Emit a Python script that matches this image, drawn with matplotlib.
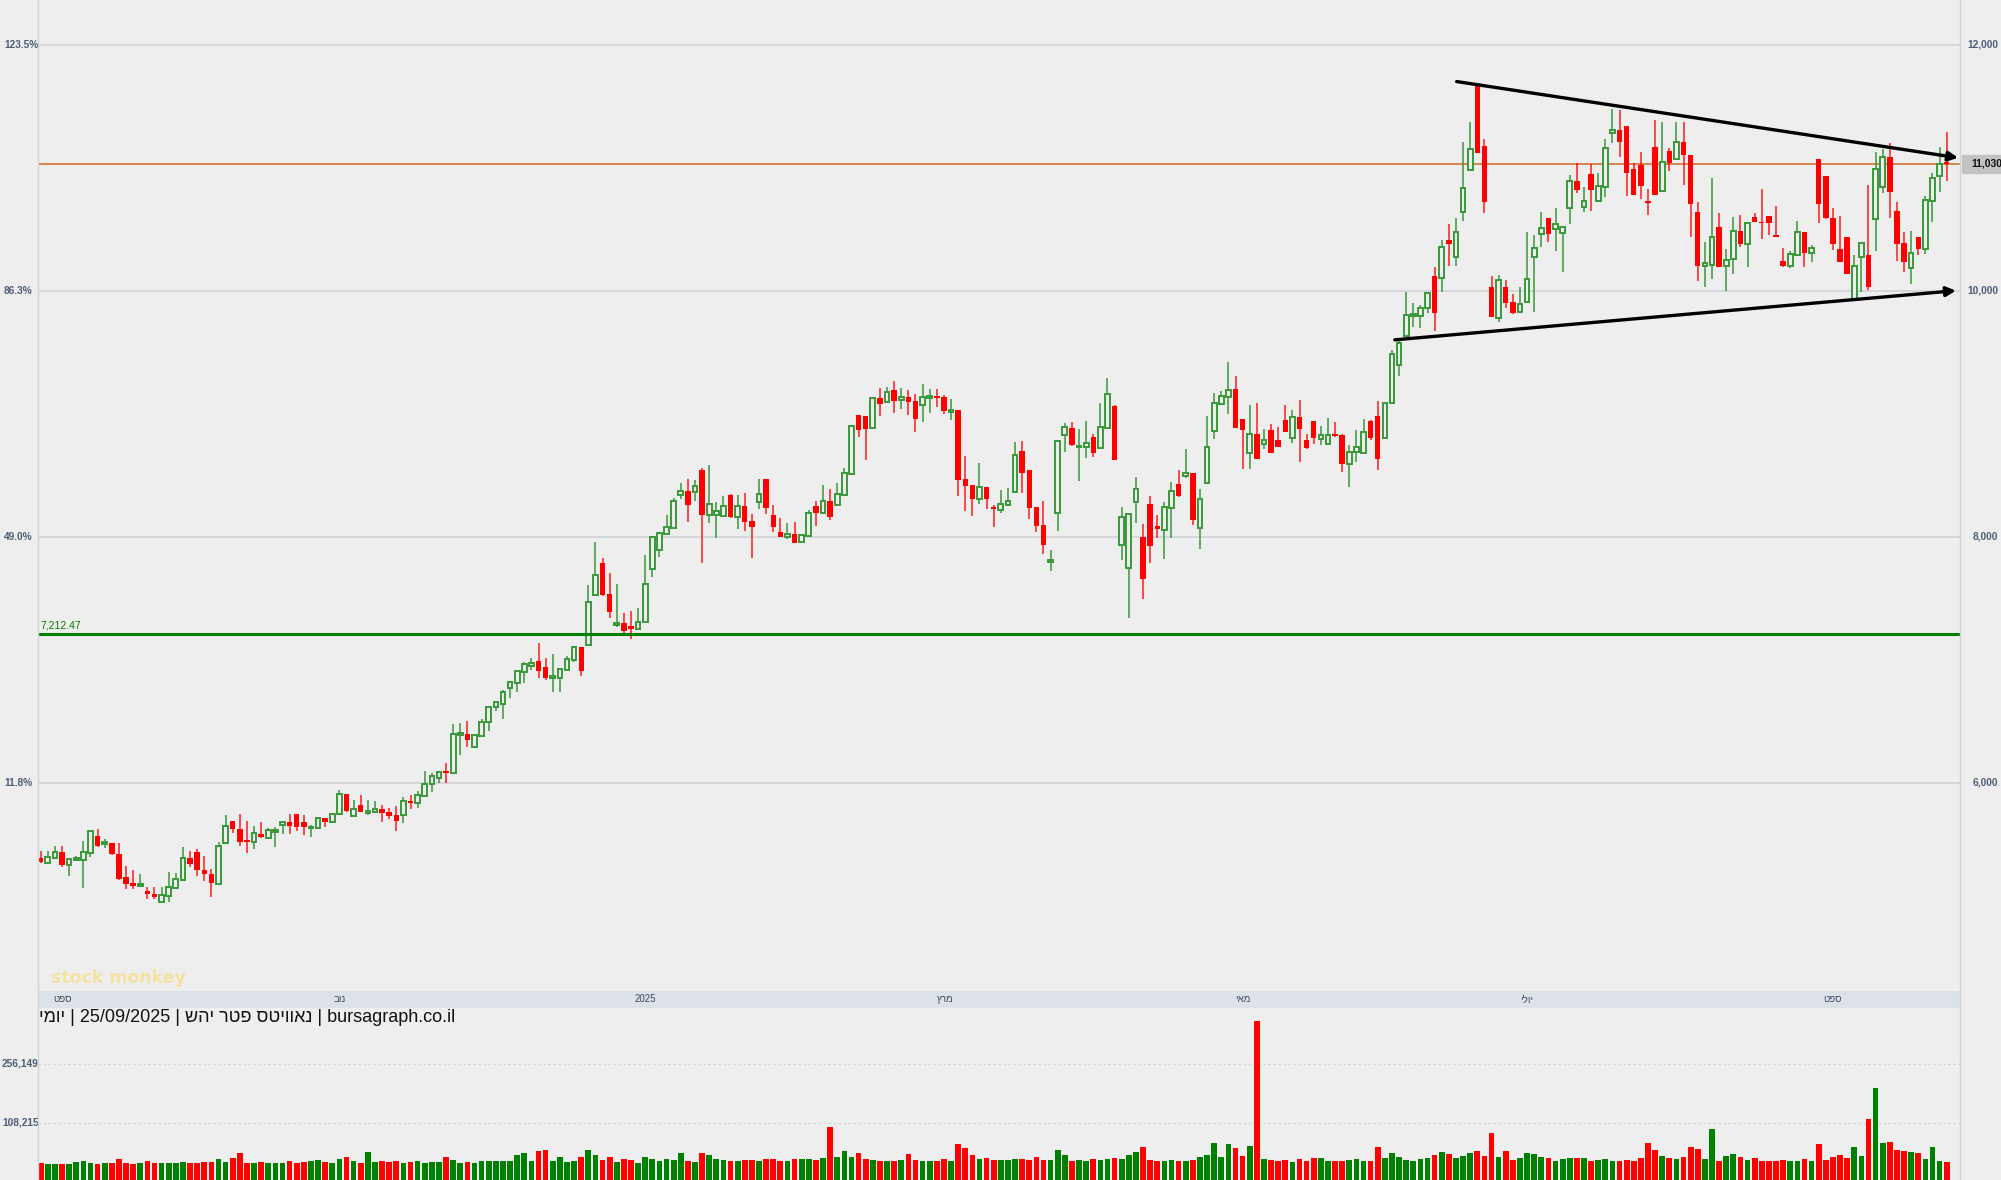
import numpy as np
import matplotlib.pyplot as plt
import matplotlib.transforms as mtransforms
from matplotlib.lines import Line2D
from matplotlib.patches import Rectangle

plt.rcParams['font.family'] = ['Liberation Sans', 'DejaVu Sans']

# daily candles, Sep 2024 - 25/09/2025
opens = [5385, 5350, 5391, 5437, 5331, 5372, 5372, 5431, 5567, 5499,
         5510, 5418, 5233, 5185, 5160, 5120, 5095, 5030, 5082, 5147,
         5209, 5385, 5437, 5290, 5258, 5174, 5513, 5686, 5624, 5526,
         5521, 5583, 5548, 5599, 5653, 5681, 5743, 5683, 5629, 5629,
         5716, 5683, 5748, 5908, 5729, 5819, 5756, 5762, 5786, 5764,
         5737, 5737, 5848, 5838, 5894, 5989, 6041, 6084, 6079, 6388,
         6393, 6293, 6380, 6491, 6613, 6640, 6772, 6810, 6903, 6951,
         6989, 6938, 6854, 6854, 6916, 6997, 7106, 7119, 7526, 7786,
         7534, 7282, 7301, 7274, 7250, 7309, 7737, 7892, 8019, 8071,
         8336, 8374, 8366, 8542, 8179, 8179, 8165, 8339, 8160, 8249,
         8127, 8282, 8469, 8176, 8038, 8000, 8022, 7959, 8006, 8247,
         8193, 8290, 8257, 8338, 8509, 8989, 8981, 8886, 9124, 9095,
         9192, 9108, 9135, 9103, 9070, 9127, 9135, 9135, 9013, 9030,
         8469, 8417, 8309, 8403, 8235, 8217, 8257, 8363, 8696, 8542,
         8241, 8095, 7796, 8195, 8829, 8880, 8726, 8731, 8807, 8721,
         8883, 9063, 7933, 7748, 8285, 7995, 8266, 8087, 8055, 8236,
         8429, 8494, 8518, 8074, 8439, 8862, 9079, 9139, 9201, 8957,
         8683, 8832, 8756, 8868, 8786, 8949, 8805, 8973, 8786, 8941,
         8792, 8754, 8827, 8827, 8591, 8686, 8683, 8941, 8981, 8800,
         9084, 9396, 9631, 9794, 9796, 9856, 10119, 10105, 10412, 10276,
         10642, 10981, 11664, 11176, 10027, 9780, 10027, 9905, 9826, 9910,
         10276, 10463, 10588, 10501, 10471, 10674, 10891, 10683, 10945, 10729,
         10842, 11279, 11306, 11336, 10986, 11021, 10726, 11165, 10810, 11135,
         11070, 11208, 11103, 10639, 10203, 10208, 10517, 10203, 10257, 10488,
         10382, 10596, 10555, 10607, 10452, 10241, 10203, 10290, 10474, 10303,
         11070, 10932, 10588, 10338, 10436, 9924, 10276, 10287, 10585, 10845,
         11086, 10647, 10387, 10187, 10436, 10336, 10729, 10935, 11043]
highs = [5445, 5445, 5485, 5485, 5380, 5404, 5526, 5610, 5624, 5540,
         5510, 5507, 5323, 5290, 5258, 5155, 5149, 5149, 5274, 5263,
         5475, 5447, 5461, 5404, 5296, 5521, 5737, 5686, 5746, 5689,
         5648, 5678, 5634, 5637, 5691, 5743, 5743, 5737, 5653, 5716,
         5716, 5754, 5941, 5908, 5859, 5900, 5859, 5851, 5819, 5791,
         5810, 5886, 5900, 5935, 6095, 6079, 6090, 6160, 6477, 6483,
         6501, 6385, 6515, 6623, 6653, 6754, 6821, 6911, 6984, 7011,
         7138, 7011, 7046, 6922, 7030, 7111, 7106, 7607, 7959, 7827,
         7705, 7615, 7377, 7396, 7423, 7851, 7995, 8033, 8176, 8312,
         8439, 8466, 8461, 8556, 8583, 8285, 8331, 8347, 8339, 8358,
         8184, 8466, 8469, 8258, 8155, 8109, 8119, 8014, 8217, 8290,
         8420, 8387, 8433, 8555, 8902, 8989, 8981, 9130, 9206, 9214,
         9265, 9206, 9192, 9160, 9241, 9198, 9198, 9151, 9116, 9030,
         8656, 8417, 8596, 8403, 8257, 8376, 8395, 8769, 8777, 8542,
         8241, 8290, 7891, 8780, 8921, 8932, 8875, 8940, 8834, 9089,
         9287, 9071, 8244, 8187, 8488, 8103, 8334, 8177, 8285, 8448,
         8542, 8713, 8518, 8388, 8981, 9166, 9185, 9418, 9307, 8957,
         9071, 9090, 8876, 8916, 8889, 9071, 9030, 9112, 8835, 8941,
         8900, 8965, 8933, 8835, 8746, 8868, 8954, 8949, 9103, 9090,
         9518, 9590, 9991, 9897, 9883, 9983, 10189, 10412, 10542, 10593,
         11208, 11371, 11672, 11233, 10119, 10127, 10086, 9970, 10027, 10477,
         10452, 10636, 10588, 10672, 10520, 10937, 11035, 10845, 11027, 10954,
         11230, 11474, 11469, 11336, 11035, 11127, 10824, 11387, 11371, 11157,
         11371, 11371, 11103, 10718, 10395, 10916, 10631, 10338, 10601, 10615,
         10553, 10628, 10826, 10607, 10688, 10344, 10322, 10566, 10474, 10368,
         11070, 10932, 10672, 10607, 10436, 10290, 10390, 10859, 11124, 11149,
         11198, 10720, 10477, 10482, 10436, 10769, 10954, 11165, 11290]
lows = [5344, 5344, 5382, 5312, 5244, 5361, 5147, 5393, 5480, 5472,
        5412, 5209, 5139, 5133, 5149, 5052, 5057, 5030, 5033, 5141,
        5209, 5312, 5244, 5201, 5073, 5174, 5513, 5594, 5488, 5426,
        5461, 5550, 5542, 5480, 5580, 5580, 5610, 5575, 5556, 5623,
        5637, 5670, 5745, 5764, 5729, 5759, 5740, 5756, 5683, 5705,
        5610, 5670, 5789, 5791, 5892, 5927, 5995, 6000, 6079, 6228,
        6293, 6287, 6380, 6423, 6580, 6520, 6691, 6740, 6808, 6916,
        6854, 6835, 6735, 6740, 6916, 6984, 6867, 7119, 7526, 7518,
        7342, 7268, 7220, 7171, 7250, 7309, 7675, 7832, 8019, 8071,
        8306, 8119, 8293, 7789, 8111, 7992, 8157, 8155, 8065, 8046,
        7829, 8228, 8184, 8041, 7995, 7981, 7951, 7959, 8006, 8087,
        8193, 8135, 8252, 8338, 8509, 8813, 8623, 8886, 8983, 9089,
        9008, 9040, 8989, 8851, 8935, 9008, 9057, 8997, 8948, 8333,
        8211, 8168, 8265, 8227, 8081, 8195, 8257, 8363, 8357, 8146,
        8040, 7859, 7723, 8049, 8688, 8737, 8455, 8642, 8647, 8721,
        8883, 8626, 7811, 7336, 8114, 7496, 7789, 7992, 7822, 7992,
        8326, 8475, 8098, 7897, 8439, 8792, 9079, 8995, 8887, 8548,
        8548, 8635, 8710, 8683, 8732, 8849, 8765, 8605, 8716, 8756,
        8746, 8754, 8813, 8529, 8401, 8610, 8670, 8786, 8545, 8792,
        9084, 9307, 9620, 9707, 9693, 9815, 9674, 9991, 10203, 10203,
        10569, 10981, 11122, 10634, 9783, 9748, 9856, 9810, 9826, 9910,
        9824, 10357, 10398, 10325, 10154, 10544, 10791, 10642, 10650, 10729,
        10764, 11203, 11089, 10772, 10780, 10742, 10618, 10780, 10810, 10975,
        11070, 10861, 10439, 10081, 10032, 10097, 10189, 9994, 10132, 10357,
        10195, 10561, 10417, 10452, 10433, 10195, 10187, 10290, 10195, 10230,
        10553, 10585, 10330, 10235, 10132, 9924, 9991, 10005, 10325, 10791,
        10588, 10241, 10151, 10051, 10290, 10298, 10561, 10805, 10894]
closes = [5353, 5399, 5439, 5331, 5380, 5385, 5439, 5610, 5488, 5518,
          5418, 5217, 5174, 5163, 5171, 5093, 5074, 5087, 5155, 5220,
          5391, 5336, 5290, 5255, 5187, 5485, 5651, 5626, 5521, 5521,
          5588, 5561, 5618, 5613, 5681, 5651, 5640, 5640, 5642, 5716,
          5683, 5748, 5911, 5773, 5789, 5764, 5773, 5789, 5756, 5729,
          5691, 5854, 5838, 5903, 5989, 6052, 6090, 6079, 6396, 6396,
          6350, 6385, 6496, 6618, 6653, 6740, 6821, 6911, 6962, 6970,
          6911, 6854, 6862, 6922, 7006, 7106, 6911, 7472, 7691, 7526,
          7390, 7301, 7236, 7252, 7309, 7618, 7995, 8033, 8081, 8293,
          8374, 8260, 8415, 8179, 8268, 8206, 8252, 8160, 8252, 8122,
          8081, 8344, 8236, 8081, 8000, 8025, 7951, 8014, 8195, 8193,
          8293, 8162, 8347, 8520, 8902, 8867, 8875, 9130, 9078, 9179,
          9103, 9135, 9095, 8956, 9138, 9138, 9130, 9021, 9032, 8463,
          8414, 8309, 8406, 8306, 8227, 8265, 8290, 8666, 8520, 8235,
          8089, 7935, 7810, 8780, 8891, 8748, 8740, 8764, 8683, 8894,
          9162, 8626, 8163, 8187, 8391, 7659, 7927, 8060, 8244, 8374,
          8334, 8521, 8139, 8309, 8732, 9090, 9144, 9196, 8887, 8865,
          8838, 8635, 8784, 8683, 8732, 8849, 8976, 8878, 8724, 8805,
          8827, 8830, 8819, 8594, 8689, 8732, 8854, 8805, 8635, 9090,
          9485, 9572, 9802, 9805, 9856, 9983, 9815, 10357, 10376, 10479,
          10832, 11154, 11122, 10723, 9783, 10086, 9902, 9821, 9891, 10097,
          10349, 10512, 10458, 10542, 10520, 10891, 10821, 10729, 10815, 10853,
          11162, 11306, 11211, 10954, 10780, 10853, 10715, 10780, 11048, 11035,
          11211, 11105, 10707, 10203, 10227, 10439, 10189, 10249, 10488, 10382,
          10553, 10561, 10547, 10547, 10433, 10203, 10298, 10479, 10303, 10349,
          10707, 10588, 10376, 10235, 10132, 10203, 10390, 10032, 10992, 11089,
          10805, 10382, 10235, 10309, 10336, 10740, 10918, 11032, 11030]
# volume, thousands of units
volumes_k = [9, 5, 5, 5, 5, 10, 13, 9, 5, 9,
             9, 19, 9, 5, 9, 13, 9, 9, 9, 9,
             11, 9, 9, 11, 11, 17, 11, 21, 33, 9,
             9, 11, 9, 9, 8, 12, 9, 11, 13, 16,
             11, 9, 17, 22, 12, 9, 36, 11, 12, 10,
             13, 9, 11, 14, 9, 10, 11, 22, 16, 9,
             11, 9, 12, 13, 12, 14, 12, 28, 32, 14,
             38, 40, 13, 24, 11, 13, 24, 41, 27, 16,
             23, 11, 18, 15, 9, 22, 19, 13, 19, 16,
             32, 13, 11, 32, 27, 18, 15, 13, 12, 15,
             15, 13, 18, 18, 14, 14, 18, 18, 17, 15,
             20, 99, 23, 38, 22, 34, 17, 15, 14, 14,
             13, 16, 30, 16, 13, 12, 14, 18, 12, 56,
             46, 28, 17, 20, 16, 15, 16, 17, 18, 15,
             22, 16, 16, 41, 27, 13, 15, 12, 17, 15,
             17, 20, 18, 28, 36, 49, 16, 13, 14, 15,
             12, 13, 15, 22, 27, 57, 23, 55, 46, 25,
             50, 364, 18, 16, 12, 15, 10, 18, 14, 20,
             20, 13, 13, 14, 16, 17, 12, 14, 48, 20,
             33, 22, 15, 13, 17, 20, 28, 36, 30, 20,
             25, 32, 38, 26, 84, 24, 38, 15, 20, 34,
             30, 24, 20, 12, 18, 21, 20, 21, 14, 16,
             19, 13, 14, 16, 12, 21, 57, 40, 25, 20,
             18, 22, 49, 44, 17, 92, 13, 25, 30, 22,
             15, 20, 12, 14, 14, 15, 14, 13, 17, 13,
             55, 15, 22, 27, 20, 49, 25, 117, 197, 59,
             61, 40, 38, 36, 33, 19, 49, 12, 10]

price_ticks = [6000, 8000, 10000, 12000]
price_labels = ['6,000', '8,000', '10,000', '12,000']
pct_labels = ['11.8%', '49.0%', '86.3%', '123.5%']
vol_ticks = [108215, 256149]
vol_labels = ['108,215', '256,149']
month_pos = [3, 42, 85, 127, 169, 209, 252]
month_labels = ['ספט', 'נוב', '2025', 'מרץ', 'מאי', 'יולי', 'ספט']
support = 7212.47
last_close = 11030
trend_upper = [(199.1, 11700), (269.6, 11080)]
trend_lower = [(190.4, 9600), (269.3, 10000)]


def rtl(s):
    # matplotlib has no bidi: flip hebrew words so they read right to left
    return ' '.join(w[::-1] if any('\u0590' <= ch <= '\u05ff' for ch in w) else w
                    for w in s.split(' '))


W, H = 2001, 1180
BG = '#eeeeee'
GREEN = '#3a983a'
RED = '#ff0000'
AXTXT = '#4e5d78'


def fx(px):
    return px / W


def fy(py):
    return 1 - py / H


fig = plt.figure(figsize=(W / 100, H / 100), dpi=100, facecolor=BG)

o = np.array(opens, float)
h = np.array(highs, float)
l = np.array(lows, float)
c = np.array(closes, float)
x = np.arange(len(c))
up = c >= o
xlim = (-0.38, len(c) + 0.87)

# ---- price panel
ax = fig.add_axes([fx(38), fy(991), fx(1960) - fx(38), 991 / H])
ax.set_facecolor(BG)
ax.set_xlim(*xlim)
ax.set_ylim(4306, 12363)
ax.set_xticks([])
ax.set_yticks([])
for s in ax.spines.values():
    s.set_visible(False)

for p in price_ticks:
    ax.axhline(p, color='#cfd2d8', lw=1.2, zorder=0)
ax.axhline(last_close, color='#d2691e', lw=1.1, zorder=1)
ax.axhline(support, color='#008000', lw=2.2, zorder=4)

ax.vlines(x[up], l[up], h[up], color=GREEN, lw=1.3, alpha=0.85, zorder=2)
ax.vlines(x[~up], l[~up], h[~up], color=RED, lw=1.3, alpha=0.75, zorder=2)
body_lo = np.minimum(o, c)
body_h = np.maximum(np.abs(c - o), 14)
ax.bar(x[up], body_h[up], bottom=body_lo[up], width=0.66, facecolor=BG,
       edgecolor=GREEN, lw=1.4, zorder=3)
ax.bar(x[~up], body_h[~up], bottom=body_lo[~up], width=0.76, color=RED,
       lw=0, zorder=3)

for (x0, y0), (x1, y1) in (trend_upper, trend_lower):
    ax.annotate('', xy=(x1, y1), xytext=(x0, y0), annotation_clip=False,
                arrowprops=dict(arrowstyle='-|>', color='black', lw=2.4,
                                mutation_scale=14, shrinkA=0, shrinkB=0),
                zorder=6)

tr = mtransforms.blended_transform_factory(fig.transFigure, ax.transData)
for p, lab, pct in zip(price_ticks, price_labels, pct_labels):
    ax.text(fx(1998), p, lab, transform=tr, ha='right', va='center',
            fontsize=7.3, fontweight='bold', color=AXTXT, clip_on=False)
    ax.text(fx(4), p, pct, transform=tr, ha='left', va='center',
            fontsize=7.3, fontweight='bold', color=AXTXT, clip_on=False)

ax.add_patch(Rectangle((fx(1962), last_close - 72), fx(2001) - fx(1962), 144,
                       transform=tr, color='#c2c2c2', clip_on=False, zorder=5))
ax.text(fx(2002), last_close, f'{last_close:,}', transform=tr, ha='right',
        va='center', fontsize=7.5, fontweight='bold', color='#111111',
        clip_on=False, zorder=6)
ax.text(fx(40), support + 25, f'{support:,.2f}', transform=tr, ha='left',
        va='bottom', fontsize=7.5, color='#008000', clip_on=False)

ax.text(fx(51), fy(978), 'stock monkey', transform=fig.transFigure,
        fontsize=12.5, fontweight='bold', color='#f3e2a0', va='center',
        family='DejaVu Sans')

# ---- time band
axt = fig.add_axes([fx(38), fy(1008), fx(1960) - fx(38), 17 / H])
axt.set_facecolor('#dde1e8')
axt.set_xlim(*xlim)
axt.set_ylim(0, 1)
axt.set_xticks([])
axt.set_yticks([])
for s in axt.spines.values():
    s.set_visible(False)
for pos, lab in zip(month_pos, month_labels):
    axt.text(pos, 0.5, rtl(lab), ha='center', va='center', fontsize=7,
             color='#3c4a66')

# ---- volume panel
vmin, vmax = -34700, 391500
axv = fig.add_axes([fx(38), 0, fx(1960) - fx(38), 170 / H])
axv.set_facecolor(BG)
axv.set_xlim(*xlim)
axv.set_ylim(vmin, vmax)
axv.set_xticks([])
axv.set_yticks([])
for s in axv.spines.values():
    s.set_visible(False)
vol = np.array(volumes_k, float) * 1000
axv.bar(x, vol - vmin, bottom=vmin, width=0.8,
        color=np.where(up, '#008000', '#ff0000'), lw=0, zorder=2)
trv = mtransforms.blended_transform_factory(fig.transFigure, axv.transData)
for v, lab in zip(vol_ticks, vol_labels):
    axv.axhline(v, color='#d6d6d6', lw=0.9, ls=(0, (2, 2)), zorder=0)
    axv.text(fx(2), v, lab, transform=trv, ha='left', va='center',
             fontsize=7.3, fontweight='bold', color=AXTXT, clip_on=False)

title = rtl('יומי') + ' | 25/09/2025 | ' + rtl('יהש פטר נאוויטס') + ' | bursagraph.co.il'
fig.text(fx(39), fy(1018), title, fontsize=13, va='center', ha='left',
         color='#111111', family=['Liberation Sans Narrow', 'Liberation Sans', 'DejaVu Sans'])

for px in (38, 1960):
    fig.add_artist(Line2D([fx(px), fx(px)], [0, 1], transform=fig.transFigure,
                          color='#d4d4d4', lw=1))

fig.savefig('out.png', dpi=100, facecolor=BG)
